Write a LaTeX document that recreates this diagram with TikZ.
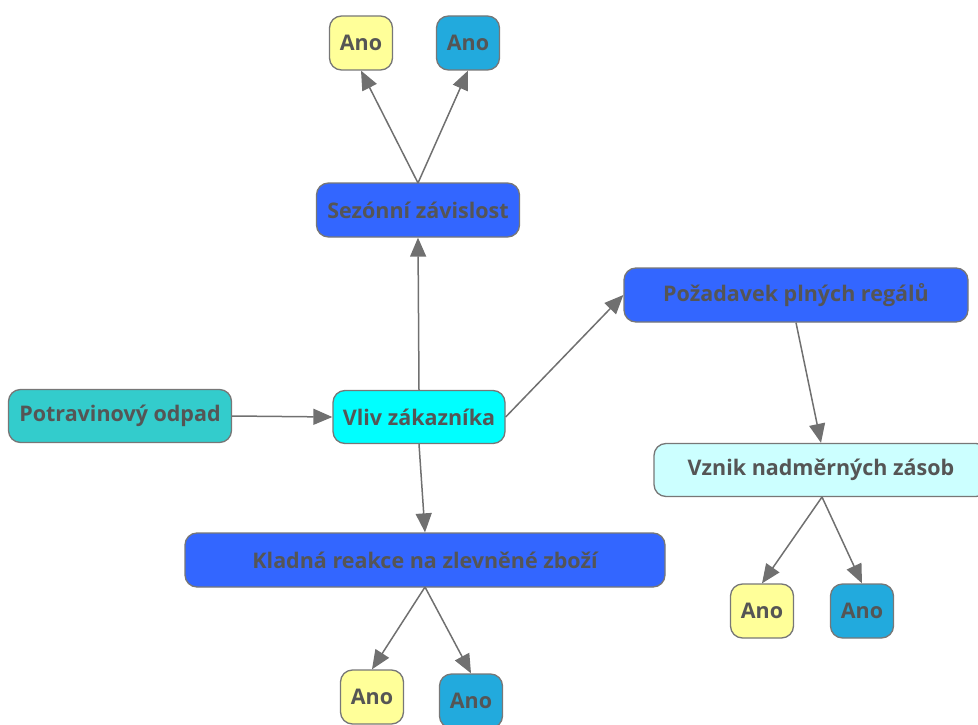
\documentclass[tikz,border=0pt]{standalone}
\usepackage{fontspec}
\setmainfont{Open Sans}
\usetikzlibrary{arrows.meta}
\definecolor{dblue}{HTML}{3366FF}
\definecolor{cyanb}{HTML}{00FFFF}
\definecolor{tealb}{HTML}{33CCCC}
\definecolor{lcyan}{HTML}{CCFFFF}
\definecolor{yel}{HTML}{FFFF99}
\definecolor{mblue}{HTML}{22AADD}
\definecolor{bord}{HTML}{777777}
\definecolor{txt}{HTML}{555555}
\definecolor{arr}{HTML}{707070}
\tikzset{
  box/.style={draw=bord, line width=1.3pt, rounded corners=12pt, inner sep=0pt,
    font=\fontsize{21.5}{24}\selectfont\bfseries, text=txt, align=center},
  ano/.style={box, minimum width=63pt, minimum height=54pt},
  conn/.style={draw=arr, line width=1.5pt, -{Triangle[length=19pt,width=16pt]}}
}
\begin{document}
\begin{tikzpicture}[x=1pt,y=-1pt]
\useasboundingbox (0,0) rectangle (978,725);
\clip (0,0) rectangle (978,725);
\node[ano, fill=yel] (a1) at (361,43) {Ano};
\node[ano, fill=mblue] (a2) at (468,43) {Ano};
\node[box, fill=dblue, minimum width=203pt, minimum height=54pt] (sez) at (418,210) {Sezónní závislost};
\node[box, fill=dblue, minimum width=344pt, minimum height=54pt] (poz) at (796,295) {Požadavek plných regálů};
\node[box, fill=tealb, minimum width=223pt, minimum height=53pt] (pot) at (120,416) {Potravinový odpad};
\node[box, fill=cyanb, minimum width=172pt, minimum height=53pt] (vliv) at (419,417) {Vliv zákazníka};
\node[box, fill=lcyan, minimum width=334pt, minimum height=53pt] (vz) at (821,470) {Vznik nadměrných zásob};
\node[box, fill=dblue, minimum width=480pt, minimum height=54pt] (kl) at (425,560) {Kladná reakce na zlevněné zboží};
\node[ano, fill=yel] (a3) at (372,697) {Ano};
\node[ano, fill=mblue] (a4) at (471,701) {Ano};
\node[ano, fill=yel] (a5) at (762,611) {Ano};
\node[ano, fill=mblue] (a6) at (862,611) {Ano};
\coordinate (sezt) at (418,183);
\coordinate (klb) at (425,587);
\coordinate (vzb) at (822,497);
\draw[conn] (sezt) -- (a1.south);
\draw[conn] (sezt) -- (a2.south);
\draw[conn] (vliv.north) -- (sez.south);
\draw[conn] (pot.east) -- (vliv.west);
\draw[conn] (vliv.east) -- (poz.west);
\draw[conn] (vliv.south) -- (kl.north);
\draw[conn] (poz.south) -- (vz.north);
\draw[conn] (vzb) -- (a5.north);
\draw[conn] (vzb) -- (a6.north);
\draw[conn] (klb) -- (a3.north);
\draw[conn] (klb) -- (a4.north);
\end{tikzpicture}
\end{document}
